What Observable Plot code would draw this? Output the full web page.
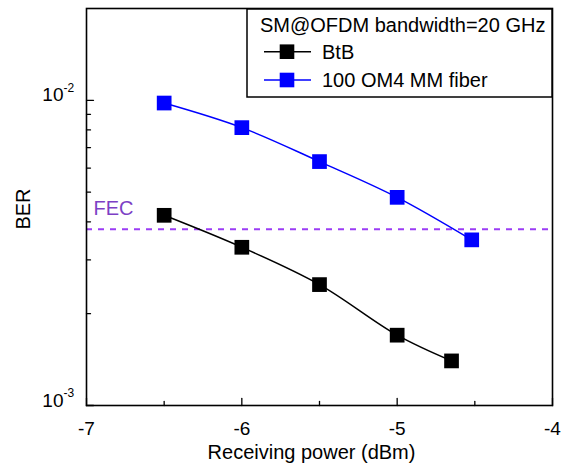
<!DOCTYPE html>
<html><head><meta charset="utf-8">
<script src="https://cdn.jsdelivr.net/npm/d3@7"></script>
<script src="https://cdn.jsdelivr.net/npm/@observablehq/plot@0.6"></script>
<style>
body{margin:0;background:#fff;}
svg{font-family:"Liberation Sans",Arial,sans-serif;}
</style>
</head><body><div id="chart"></div>
<script>
// ---- data ----
const btbPower = [-6.5, -6, -5.5, -5, -4.65];
const btbBer = [4.2e-3, 3.3e-3, 2.49e-3, 1.7e-3, 1.4e-3];
const fiberPower = [-6.5, -6, -5.5, -5, -4.52];
const fiberBer = [9.8e-3, 8.14e-3, 6.3e-3, 4.81e-3, 3.49e-3];
const fecLevel = 3.78e-3;
const seriesNames = ["BtB", "100 OM4 MM fiber"];
const seriesColors = ["#000000", "#0000ff"];
const legendTitle = "SM@OFDM bandwidth=20 GHz";
const xMajor = [-7, -6, -5, -4];
const xMinor = [-6.5, -5.5, -4.5];
const yMajor = [1e-3, 1e-2];
const yMinor = [2e-3, 3e-3, 4e-3, 5e-3, 6e-3, 7e-3, 8e-3, 9e-3];
const yTickLabels = [{v: 1e-3, exp: "-3"}, {v: 1e-2, exp: "-2"}];
const xTitle = "Receiving power (dBm)";
const yTitle = "BER";

const btb = btbPower.map((x, i) => ({x, y: btbBer[i]}));
const fiber = fiberPower.map((x, i) => ({x, y: fiberBer[i]}));

const tickUp = {draw(ctx, l) { ctx.moveTo(0, 0); ctx.lineTo(0, -l); }};
const fs = 19;

const chart = Plot.plot({
  width: 563, height: 468,
  marginLeft: 86, marginRight: 11, marginTop: 8, marginBottom: 63,
  style: {fontFamily: '"Liberation Sans", Arial, sans-serif', background: "#fff"},
  x: {domain: [-7, -4], axis: null},
  y: {type: "log", domain: [1e-3, 2e-2], axis: null},
  marks: [
    Plot.ruleY([fecLevel], {y: d => d, stroke: "#9b3cf5", strokeWidth: 2, strokeDasharray: "6,6"}),
    Plot.text([fecLevel], {y: d => d, text: () => "FEC", frameAnchor: "left", textAnchor: "start", dx: 7, dy: -21, fill: "#7d3fc5", fontSize: 20}),
    Plot.line(btb, {x: "x", y: "y", stroke: seriesColors[0], strokeWidth: 1.5, curve: "catmull-rom"}),
    Plot.line(fiber, {x: "x", y: "y", stroke: seriesColors[1], strokeWidth: 1.5, curve: "catmull-rom"}),
    Plot.dot(btb, {x: "x", y: "y", symbol: "square", r: 8.3, fill: seriesColors[0]}),
    Plot.dot(fiber, {x: "x", y: "y", symbol: "square", r: 8.3, fill: seriesColors[1]}),
    // ticks (inward)
    Plot.vector(xMajor, {x: d => d, frameAnchor: "bottom", length: 7, shape: tickUp, stroke: "black", strokeWidth: 1.3, anchor: "start"}),
    Plot.vector(xMinor, {x: d => d, frameAnchor: "bottom", length: 4, shape: tickUp, stroke: "black", strokeWidth: 1.3, anchor: "start"}),
    Plot.vector(yMajor, {y: d => d, frameAnchor: "left", length: 7, rotate: 90, shape: tickUp, stroke: "black", strokeWidth: 1.3, anchor: "start"}),
    Plot.vector(yMinor, {y: d => d, frameAnchor: "left", length: 4, rotate: 90, shape: tickUp, stroke: "black", strokeWidth: 1.3, anchor: "start"}),
    Plot.frame({stroke: "black", strokeWidth: 1.6}),
    // tick labels
    Plot.text(xMajor, {x: d => d, text: d => String(d), frameAnchor: "bottom", dy: 29, fontSize: fs, fill: "black"}),
    Plot.text(yTickLabels, {y: "v", text: () => "10", frameAnchor: "left", textAnchor: "end", dx: -23, dy: -5, fontSize: fs, fill: "black"}),
    Plot.text(yTickLabels, {y: "v", text: "exp", frameAnchor: "left", textAnchor: "start", dx: -23, dy: -12, fontSize: 12, fill: "black"}),
    // axis titles
    Plot.text([xTitle], {text: d => d, frameAnchor: "bottom", textAnchor: "middle", dx: -8, dy: 53, fontSize: 20, fill: "black"}),
    Plot.text([yTitle], {text: d => d, frameAnchor: "left", textAnchor: "middle", rotate: -90, dx: -63, dy: 2, fontSize: 20, fill: "black"})
  ]
});

// legend box (layout overlay)
const svg = d3.select(chart);
const lg = svg.append("g").attr("text-anchor", "start");
lg.append("rect").attr("x", 247).attr("y", 9).attr("width", 305).attr("height", 88)
  .attr("fill", "white").attr("stroke", "black").attr("stroke-width", 1.5);
lg.append("text").attr("x", 260).attr("y", 32).attr("font-size", 20).attr("fill", "black").text(legendTitle);
const rowsY = [51.7, 80];
seriesNames.forEach((name, i) => {
  const y = rowsY[i];
  lg.append("line").attr("x1", 264).attr("x2", 311).attr("y1", y).attr("y2", y)
    .attr("stroke", seriesColors[i]).attr("stroke-width", 1.5);
  lg.append("rect").attr("x", 287 - 7.3).attr("y", y - 7.3).attr("width", 14.6).attr("height", 14.6)
    .attr("fill", seriesColors[i]);
  lg.append("text").attr("x", 322).attr("y", y).attr("dy", "0.36em").attr("font-size", 20).attr("fill", "black").text(name);
});

document.getElementById("chart").appendChild(chart);
</script>
</body></html>
